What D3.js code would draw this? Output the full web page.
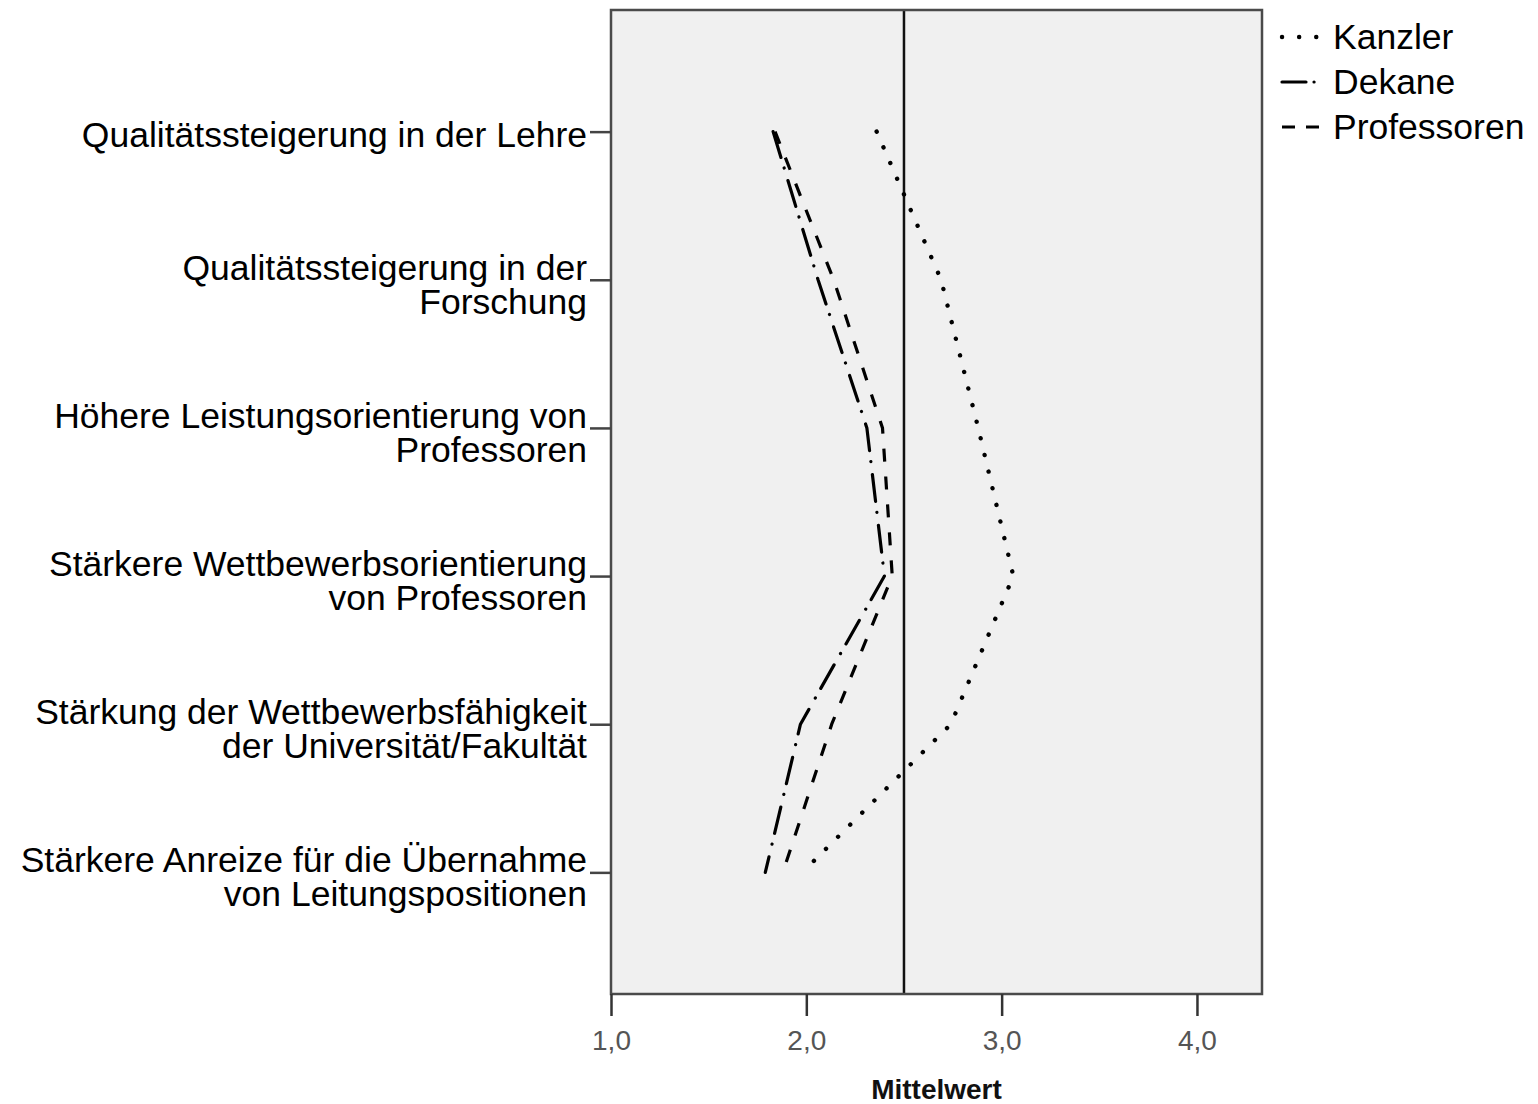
<!DOCTYPE html>
<html><head><meta charset="utf-8">
<script src="https://cdn.jsdelivr.net/npm/d3@7"></script>
<style>body{margin:0;background:#fff;} svg{display:block;}</style>
</head><body>
<svg id="chart" width="1538" height="1104"></svg>
<script>
const categories = [
  "Qualitätssteigerung in der Lehre",
  "Qualitätssteigerung in der\nForschung",
  "Höhere Leistungsorientierung von\nProfessoren",
  "Stärkere Wettbewerbsorientierung\nvon Professoren",
  "Stärkung der Wettbewerbsfähigkeit\nder Universität/Fakultät",
  "Stärkere Anreize für die Übernahme\nvon Leitungspositionen"
];
const seriesNames = ["Kanzler", "Dekane", "Professoren"];
const kanzler     = [2.36, 2.69, 2.88, 3.06, 2.74, 1.98];
const dekane      = [1.83, 2.06, 2.31, 2.40, 1.97, 1.79];
const professoren = [1.84, 2.14, 2.39, 2.44, 2.13, 1.88];
const referenceValue = 2.5;
const xTicks = [1, 2, 3, 4];
const xDomain = [1, 4.333];
const xTitle = "Mittelwert";

const series = [
  {name: seriesNames[0], values: kanzler, dash: "0.1 17", cap: "round", width: 4.4, legendDash: "0.1 17"},
  {name: seriesNames[1], values: dekane, dash: "27 11 0.1 13", cap: "round", width: 3.2, legendDash: "24 8 0.1 40"},
  {name: seriesNames[2], values: professoren, dash: "13 15", cap: "butt", width: 3.2, legendDash: "13 11"}
];

const FONT = "'Liberation Sans', Arial, sans-serif";
const svg = d3.select("#chart");
const plot = {left: 611, right: 1262, top: 10, bottom: 994};

const x = d3.scaleLinear().domain(xDomain).range([plot.left, plot.right]);
const y = d3.scalePoint().domain(categories).range([plot.top, plot.bottom]).padding(0.821);

// plot background
svg.append("rect").attr("x", plot.left).attr("y", plot.top)
  .attr("width", plot.right - plot.left).attr("height", plot.bottom - plot.top)
  .attr("fill", "#f0f0f0");

// reference line
svg.append("line").attr("x1", x(referenceValue)).attr("x2", x(referenceValue))
  .attr("y1", plot.top).attr("y2", plot.bottom)
  .attr("stroke", "#111").attr("stroke-width", 2.5);

// series lines
const line = d3.line().x(d => x(d.v)).y(d => y(d.c));
series.forEach(s => {
  const pts = s.values.map((v, i) => ({v, c: categories[i]}));
  svg.append("path").attr("d", line(pts))
    .attr("fill", "none").attr("stroke", "#000")
    .attr("stroke-width", s.width)
    .attr("stroke-dasharray", s.dash)
    .attr("stroke-linecap", s.cap)
    .attr("stroke-linejoin", "round");
});

// frame
svg.append("rect").attr("x", plot.left).attr("y", plot.top)
  .attr("width", plot.right - plot.left).attr("height", plot.bottom - plot.top)
  .attr("fill", "none").attr("stroke", "#4a4a4a").attr("stroke-width", 2.5);

// x axis
const locale = d3.formatLocale({decimal: ",", thousands: ".", grouping: [3], currency: ["", "€"]});
const xAxis = d3.axisBottom(x).tickValues(xTicks).tickFormat(locale.format(".1f"))
  .tickSize(22).tickPadding(14);
const gx = svg.append("g").attr("transform", `translate(0,${plot.bottom})`).call(xAxis);
gx.select(".domain").remove();
gx.selectAll(".tick line").attr("stroke", "#333").attr("stroke-width", 2.5);
gx.selectAll(".tick text").attr("fill", "#555")
  .style("font-family", FONT).style("font-size", "28px");

svg.append("text").attr("x", (plot.left + plot.right) / 2).attr("y", 1099)
  .attr("text-anchor", "middle")
  .style("font-family", FONT)
  .style("font-size", "28px").style("font-weight", "bold").attr("fill", "#111")
  .text(xTitle);

// y axis
const yAxis = d3.axisLeft(y).tickSize(21).tickFormat("");
const gy = svg.append("g").attr("transform", `translate(${plot.left},0)`).call(yAxis);
gy.select(".domain").remove();
gy.selectAll(".tick line").attr("stroke", "#444").attr("stroke-width", 2.5);

categories.forEach(c => {
  const lines = c.split("\n");
  const t = svg.append("text").attr("text-anchor", "end")
    .style("font-family", FONT)
    .style("font-size", "35.5px").attr("fill", "#000");
  const base = lines.length === 1 ? y(c) + 15 : y(c);
  lines.forEach((l, i) => {
    t.append("tspan").attr("x", 587).attr("y", base + i * 34).text(l);
  });
});

// legend
const legend = svg.append("g");
series.forEach((s, i) => {
  const cy = 37 + i * 45;
  legend.append("line").attr("x1", 1282).attr("x2", 1326).attr("y1", cy).attr("y2", cy)
    .attr("stroke", "#000").attr("stroke-width", s.width)
    .attr("stroke-linecap", s.cap)
    .attr("stroke-dasharray", s.legendDash);
  legend.append("text").attr("x", 1333).attr("y", cy + 12)
    .style("font-family", FONT)
    .style("font-size", "35.5px").attr("fill", "#000").text(s.name);
});
</script>
</body></html>
